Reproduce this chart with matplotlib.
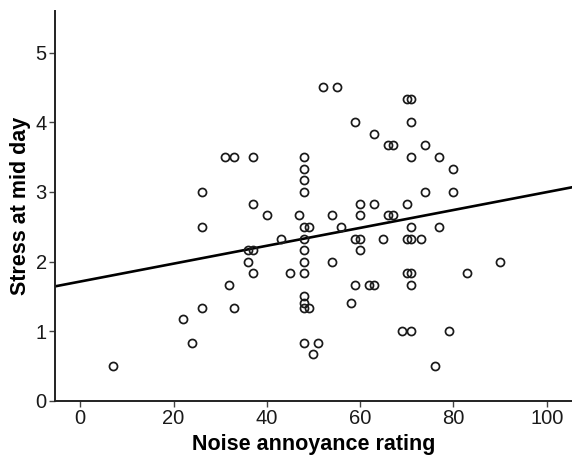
import matplotlib
matplotlib.use("Agg")
import matplotlib.pyplot as plt
import numpy as np

# Data
noise = [7, 22, 24, 26, 26, 26, 31, 32, 33, 33, 36, 36, 37, 37, 37, 37,
         40, 43, 45, 47,
         48, 48, 48, 48, 48, 48, 48, 48, 48, 48, 48, 48, 48,
         49, 49, 50, 51, 52, 54, 54, 55, 56, 58,
         59, 59, 59, 60, 60, 60, 60, 62, 63, 63, 63, 65, 66, 67, 66, 67,
         69, 70, 71, 70, 70, 71, 70, 71,
         71, 71, 71, 71, 71, 73, 74, 74, 76, 77, 77, 79, 80, 80, 83, 90]
stress = [0.5, 1.17, 0.83, 3.0, 2.5, 1.33, 3.5, 1.67, 3.5, 1.33, 2.17, 2.0, 3.5, 2.83, 2.17, 1.83,
          2.67, 2.33, 1.83, 2.67,
          3.5, 3.33, 3.17, 3.0, 2.5, 2.33, 2.17, 2.0, 1.83, 1.5, 1.4, 1.33, 0.83,
          2.5, 1.33, 0.67, 0.83, 4.5, 2.67, 2.0, 4.5, 2.5, 1.4,
          4.0, 2.33, 1.67, 2.83, 2.67, 2.33, 2.17, 1.67, 1.67, 3.83, 2.83, 2.33, 3.67, 3.67, 2.67, 2.67,
          1.0, 4.33, 4.33, 2.83, 2.33, 2.33, 1.83, 1.83,
          4.0, 3.5, 2.5, 1.67, 1.0, 2.33, 3.67, 3.0, 0.5, 3.5, 2.5, 1.0, 3.33, 3.0, 1.83, 2.0]

fit_intercept = 1.714
fit_slope = 0.01283

x_ticks = [0, 20, 40, 60, 80, 100]
y_ticks = [0, 1, 2, 3, 4, 5]
x_label = "Noise annoyance rating"
y_label = "Stress at mid day"

plt.rcParams['font.family'] = ['Liberation Sans', 'DejaVu Sans']

fig = plt.figure(figsize=(5.72, 4.58), dpi=100)
ax = fig.add_axes([55/572, 57/458, (571.5-55)/572, (401-10.7)/458])

xmin, xmax = -5.4, 105.3
ax.set_xlim(xmin, xmax)
ax.set_ylim(0, 5.6)

ax.plot(noise, stress, linestyle='none', marker='o', markersize=5.8,
        markerfacecolor='none', markeredgecolor='#1a1a1a', markeredgewidth=1.25,
        clip_on=False, zorder=3)

xs = np.array([xmin, xmax])
ax.plot(xs, fit_intercept + fit_slope * xs, color='black', linewidth=1.9, zorder=2)

for s in ['top', 'right']:
    ax.spines[s].set_visible(False)
for s in ['left', 'bottom']:
    ax.spines[s].set_linewidth(1.4)
    ax.spines[s].set_color('#222222')

ax.set_xticks(x_ticks)
ax.set_yticks(y_ticks)
ax.tick_params(axis='both', direction='out', length=4, width=1, color='#444444',
               labelsize=14.5, labelcolor='#1a1a1a', pad=2)

ax.set_xlabel(x_label, fontsize=15.5, fontweight='bold', labelpad=4)
ax.set_ylabel(y_label, fontsize=15.5, fontweight='bold', labelpad=3)

fig.savefig('out.png', dpi=100, facecolor='white')
